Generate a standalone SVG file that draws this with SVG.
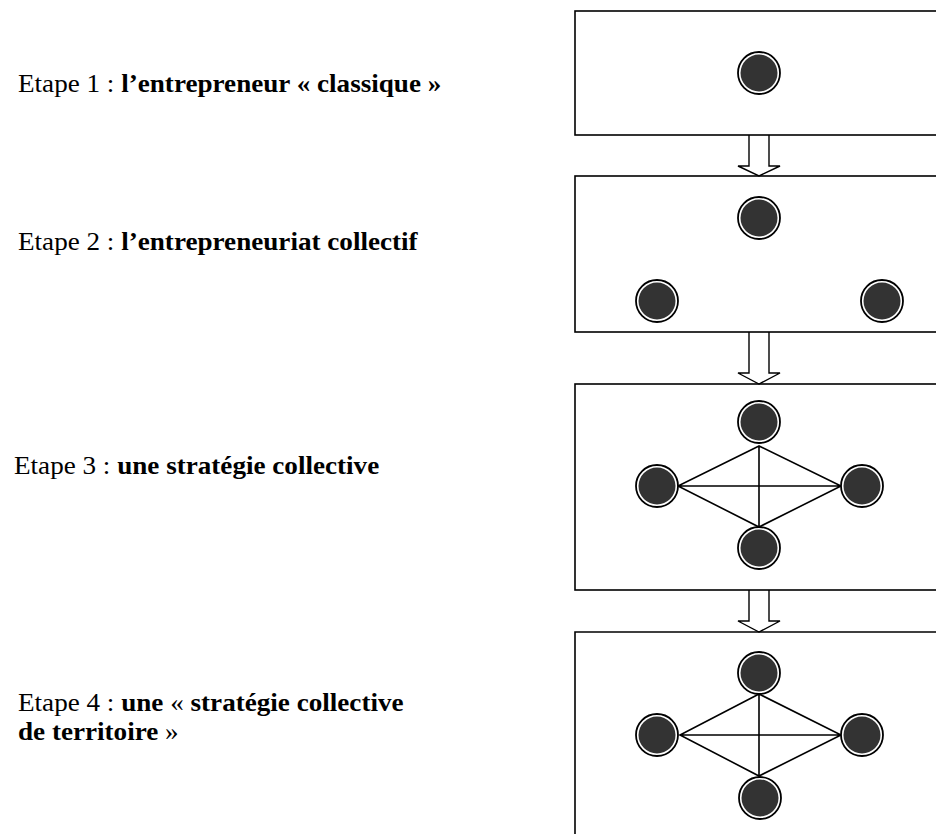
<svg xmlns="http://www.w3.org/2000/svg" width="936" height="834" viewBox="0 0 936 834">
<style>
.box{fill:none;stroke:#000;stroke-width:1.6}
.arr{fill:#fff;stroke:#000;stroke-width:1.4;stroke-linejoin:miter}
.edge{stroke:#000;stroke-width:1.6;fill:none}
.lbl{font-family:"Liberation Serif","Times New Roman",serif;font-size:25px;fill:#000}
.b{font-weight:bold}
</style>
<defs>
<g id="node">
<circle r="21" fill="#fff" stroke="#000" stroke-width="1.8"/>
<circle r="18.5" fill="#333"/>
</g>
</defs>
<rect width="936" height="834" fill="#fff"/>

<g id="labels">
<g id="label1" transform="translate(18,92) scale(1.085,1)"><text class="lbl" x="0" y="0">Etape 1 : <tspan class="b">l’entrepreneur « classique »</tspan></text></g>
<g id="label2" transform="translate(18,250) scale(1.085,1)"><text class="lbl" x="0" y="0">Etape 2 : <tspan class="b">l’entrepreneuriat collectif</tspan></text></g>
<g id="label3" transform="translate(14,474) scale(1.085,1)"><text class="lbl" x="0" y="0">Etape 3 : <tspan class="b">une stratégie collective</tspan></text></g>
<g id="label4" transform="translate(18,711) scale(1.085,1)"><text class="lbl" x="0" y="0">Etape 4 : <tspan class="b">une </tspan>« <tspan class="b">stratégie collective</tspan></text></g>
<g id="label4b" transform="translate(18,740) scale(1.085,1)"><text class="lbl b" x="0" y="0">de territoire <tspan font-weight="normal">»</tspan></text></g>
</g>

<g id="connectors">
<path class="arr" d="M749,135 V166 H738 L759,176 L780,166 H769 V135"/>
<path class="arr" d="M749,332 V373 H738 L759,384 L780,373 H769 V332"/>
<path class="arr" d="M749,590 V621 H738 L759,632 L780,621 H769 V590"/>
<g id="edges3">
<path class="edge" d="M759,446 L678,486 L759,527 L841,486 Z M678,486 H841 M759,446 V527"/>
</g>
<g id="edges4">
<path class="edge" d="M759,694 L680,735 L759,776 L841,735 Z M680,735 H841 M759,694 V776"/>
</g>
</g>

<g id="stage1">
<rect class="box" x="575" y="11" width="400" height="124"/>
<use href="#node" x="759" y="73"/>
</g>
<g id="stage2">
<rect class="box" x="575" y="176" width="400" height="156"/>
<use href="#node" x="759" y="218"/>
<use href="#node" x="657" y="301"/>
<use href="#node" x="882" y="301"/>
</g>
<g id="stage3">
<rect class="box" x="575" y="384" width="400" height="206"/>
<use href="#node" x="759" y="422"/>
<use href="#node" x="657" y="486"/>
<use href="#node" x="862" y="486"/>
<use href="#node" x="759" y="548"/>
</g>
<g id="stage4">
<path class="box" d="M936,632 H575 V834"/>
<use href="#node" x="759" y="673"/>
<use href="#node" x="657" y="735"/>
<use href="#node" x="862" y="735"/>
<use href="#node" x="760" y="798"/>
</g>
</svg>
